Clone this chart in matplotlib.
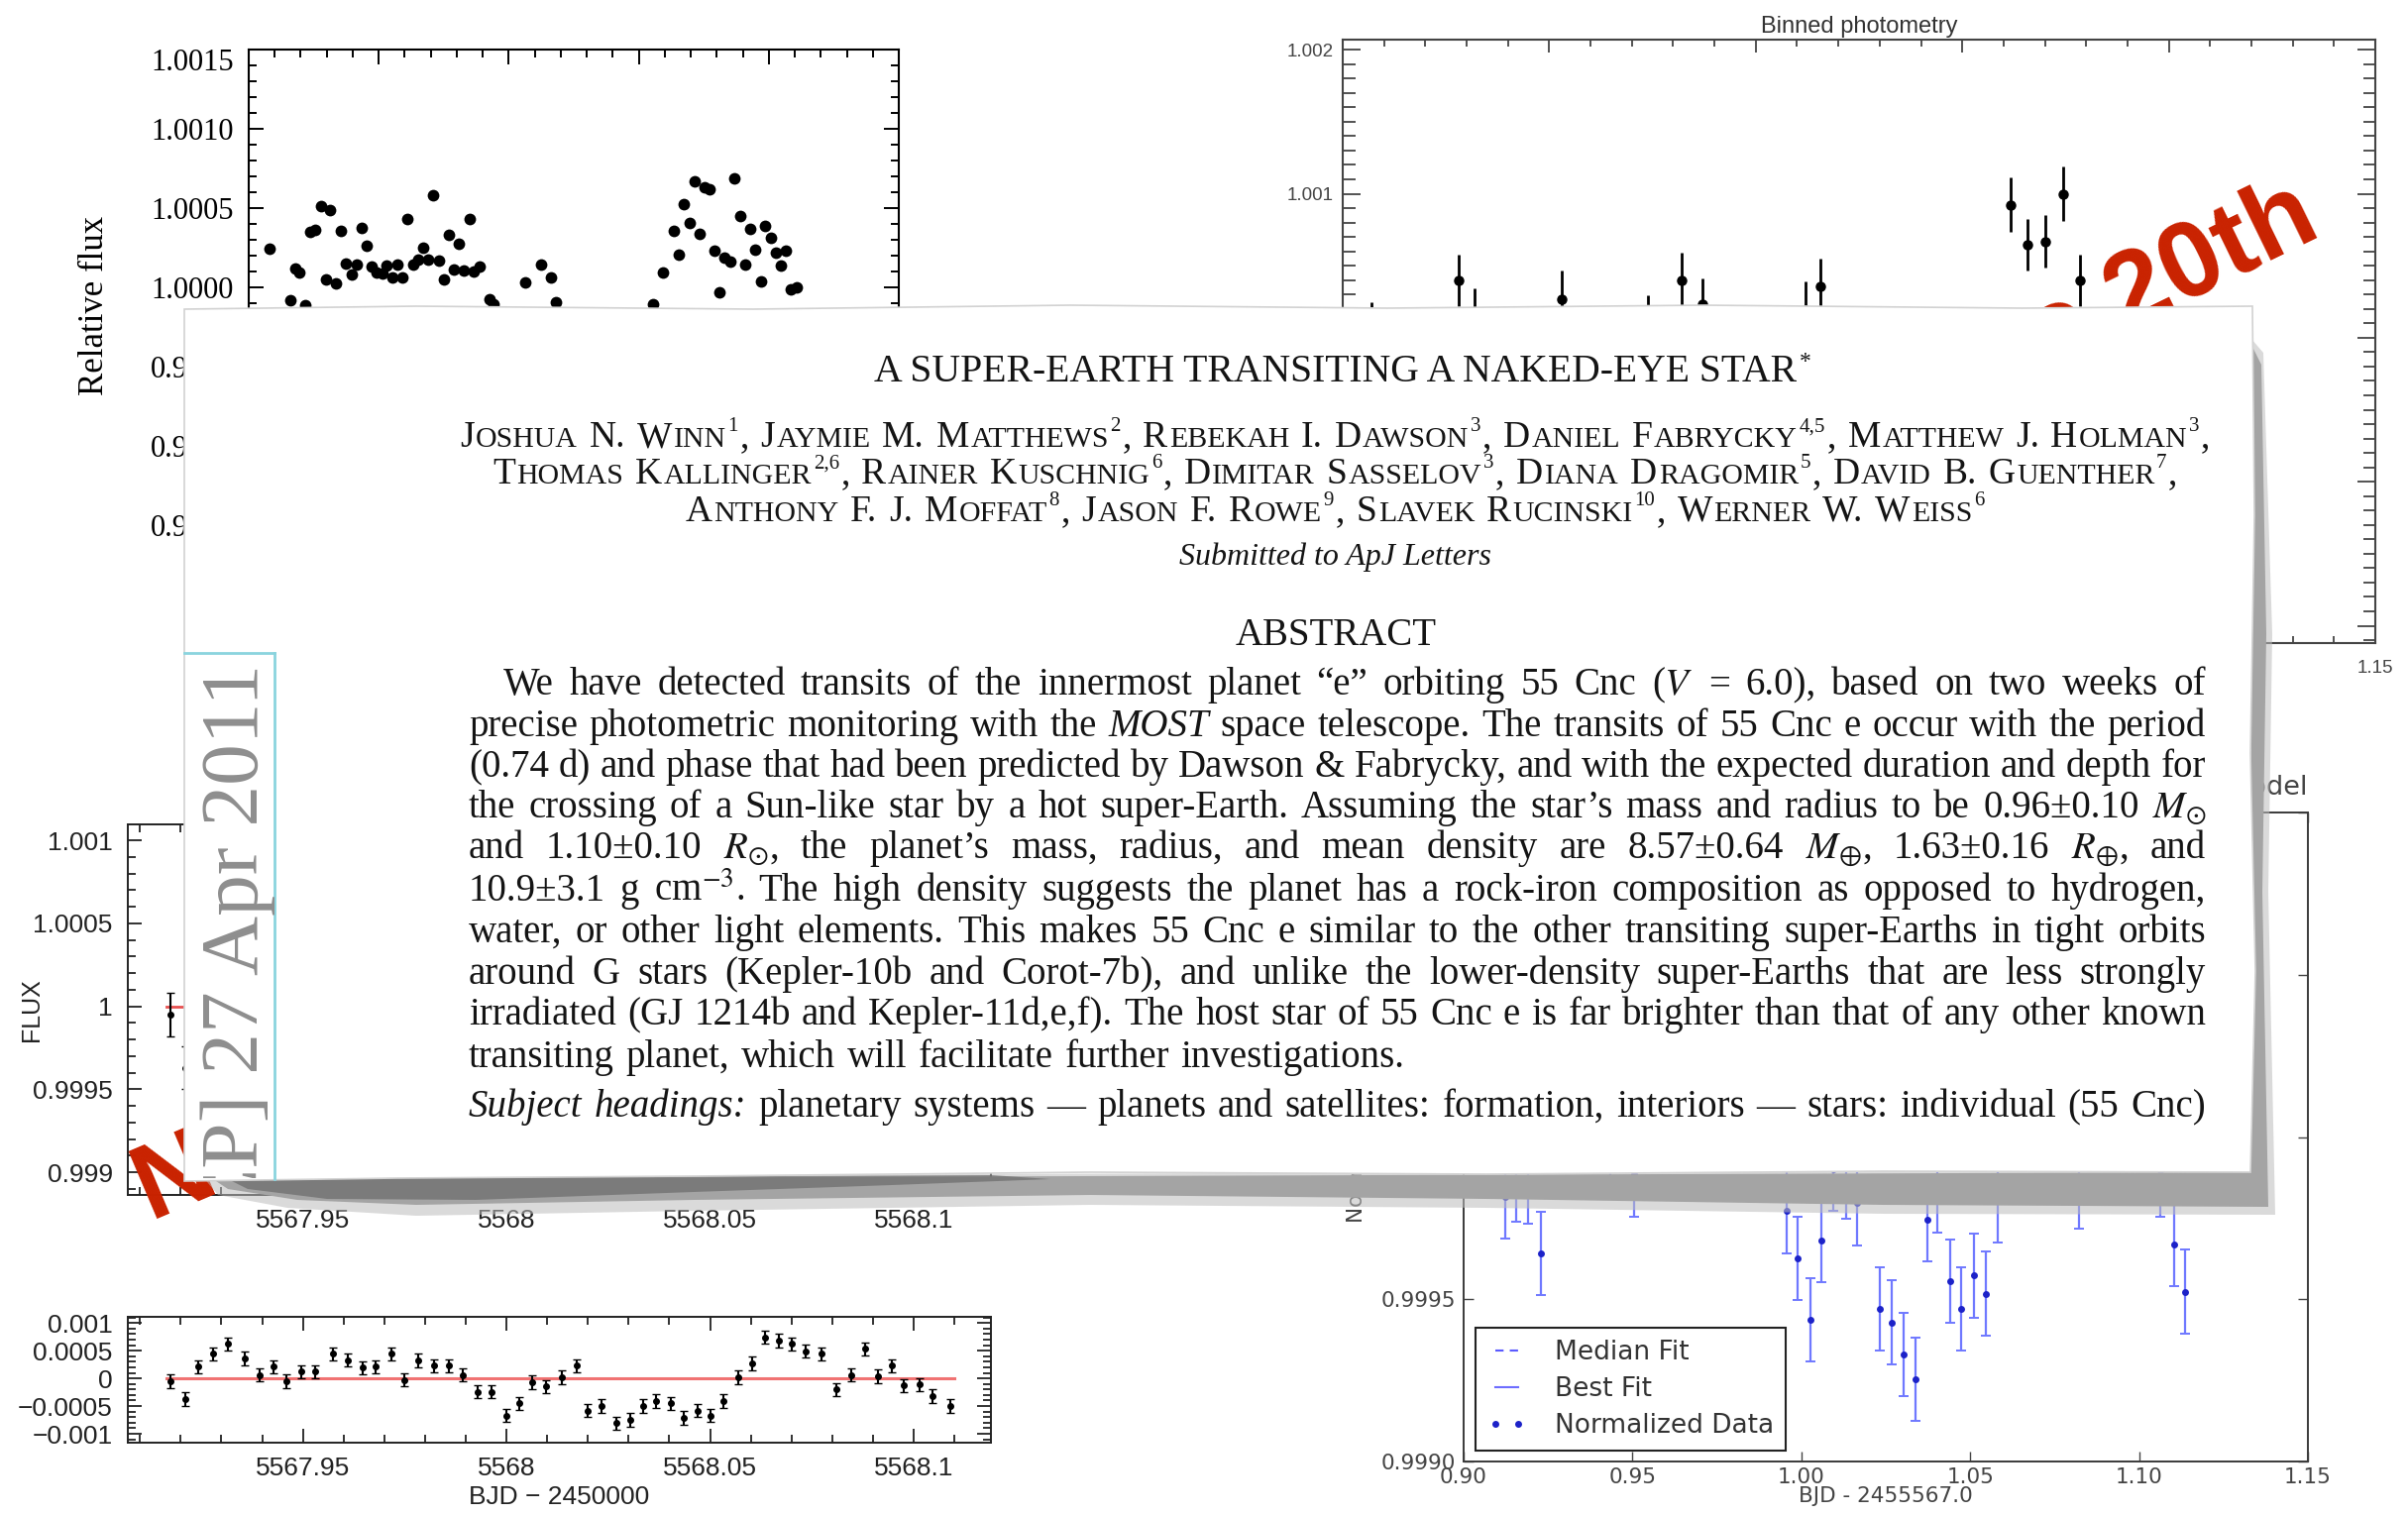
#!/usr/bin/env python3
import matplotlib
matplotlib.use('Agg')
import matplotlib.pyplot as plt
import matplotlib.ticker as mticker
from matplotlib.patches import Polygon
from matplotlib.transforms import Bbox

plt.rcParams['mathtext.fontset'] = 'stix'

# ---------------------------------------------------------------- data
# MOST light curve (top left), x = BJD - 2455567
lc_time = [0.9081, 0.9159, 0.9178, 0.9196, 0.9217, 0.9236, 0.9256, 0.9277, 0.9296, 0.9314,
           0.9335, 0.9356, 0.9374, 0.9395, 0.9414, 0.9434, 0.9453, 0.9474, 0.9492, 0.9513,
           0.9531, 0.9552, 0.9571, 0.9592, 0.9610, 0.9631, 0.9652, 0.9670, 0.9691, 0.9709,
           0.9730, 0.9749, 0.9769, 0.9788, 0.9809, 0.9827, 0.9848, 0.9866, 0.9887,
           0.9927, 0.9940, 1.0063, 1.0123, 1.0162, 1.0183,
           1.0555, 1.0594, 1.0634, 1.0654, 1.0673, 1.0694, 1.0714, 1.0733, 1.0754, 1.0772,
           1.0791, 1.0811, 1.0830, 1.0851, 1.0869, 1.0890, 1.0911, 1.0929, 1.0948, 1.0969,
           1.0987, 1.1008, 1.1026, 1.1047, 1.1066, 1.1086, 1.1107]
lc_flux = [1.000246, 0.999921, 1.000121, 1.000092, 0.999885, 1.000350, 1.000363, 1.000510, 1.000052, 1.000490,
           1.000025, 1.000354, 1.000152, 1.000079, 1.000146, 1.000375, 1.000265, 1.000129, 1.000092, 1.000088,
           1.000140, 1.000063, 1.000142, 1.000063, 1.000433, 1.000146, 1.000173, 1.000250, 1.000177, 1.000583,
           1.000167, 1.000052, 1.000329, 1.000115, 1.000275, 1.000108, 1.000429, 1.000100, 1.000129,
           0.999927, 0.999896, 1.000031, 1.000142, 1.000063, 0.999906,
           0.999896, 1.000092, 1.000354, 1.000204, 1.000525, 1.000404, 1.000667, 1.000338, 1.000631, 1.000621,
           1.000233, 0.999969, 1.000188, 1.000163, 1.000688, 1.000452, 1.000146, 1.000371, 1.000240, 1.000038,
           1.000385, 1.000313, 1.000217, 1.000135, 1.000229, 0.999990, 1.000000]

# binned photometry (top right)
bin_time = [0.907, 0.928, 0.932, 0.953, 0.974, 0.982, 0.987, 1.012, 1.0157,
            1.0616, 1.0659, 1.0700, 1.0745, 1.0784]
bin_flux = [1.000048, 1.000400, 1.000145, 1.000269, 1.000097, 1.000400, 1.000234, 1.000193, 1.000359,
            1.000924, 1.000648, 1.000669, 1.001000, 1.000400]
bin_err = [0.00020, 0.00018, 0.00020, 0.00020, 0.00020, 0.00019, 0.00018, 0.00020, 0.00019,
           0.00019, 0.00018, 0.00018, 0.00019, 0.00018]

# flux and residuals (bottom left), x = BJD - 2450000
res_time = [5567.9174, 5567.9212, 5567.9243, 5567.9280, 5567.9316, 5567.9358, 5567.9394, 5567.9427,
            5567.9459, 5567.9495, 5567.9529, 5567.9573, 5567.9611, 5567.9647, 5567.9679, 5567.9717,
            5567.9749, 5567.9782, 5567.9822, 5567.9858, 5567.9892, 5567.9928, 5567.9964, 5568.0000,
            5568.0031, 5568.0062, 5568.0098, 5568.0135, 5568.0173, 5568.0200, 5568.0233, 5568.0270,
            5568.0303, 5568.0336, 5568.0368, 5568.0404, 5568.0436, 5568.0469, 5568.0502, 5568.0534,
            5568.0570, 5568.0603, 5568.0635, 5568.0668, 5568.0700, 5568.0735, 5568.0774, 5568.0811,
            5568.0847, 5568.0880, 5568.0912, 5568.0946, 5568.0977, 5568.1015, 5568.1047, 5568.1091]
res_val = [-0.00005, -0.00037, 0.00021, 0.00044, 0.00062, 0.00036, 0.00006, 0.00021,
           -0.00005, 0.00012, 0.00012, 0.00044, 0.00033, 0.00019, 0.00021, 0.00044,
           -0.00003, 0.00032, 0.00023, 0.00023, 0.00006, -0.00024, -0.00024, -0.00067,
           -0.00045, -0.00007, -0.00015, 0.00002, 0.00023, -0.00058, -0.00050, -0.00081,
           -0.00075, -0.00050, -0.00041, -0.00045, -0.00071, -0.00058, -0.00067, -0.00041,
           0.00002, 0.00027, 0.00074, 0.00068, 0.00062, 0.00049, 0.00044, -0.00020,
           0.00006, 0.00053, 0.00004, 0.00023, -0.00013, -0.00011, -0.00032, -0.00050]
res_err = 0.00012
flux_err = 0.00013
model_time = [5567.9165, 5568.1100]
model_flux = [1.0, 1.0]
model_res = [0.0, 0.0]

# normalized data (bottom right), x = BJD - 2455567.0
norm_time = [0.9122, 0.9156, 0.9192, 0.9229, 0.9434, 0.9504, 0.9957, 0.9989, 1.0028, 1.0058,
             1.0094, 1.0132, 1.0165, 1.0233, 1.0267, 1.0303, 1.0338, 1.0372, 1.0404, 1.0440,
             1.0474, 1.0511, 1.0545, 1.0581, 1.0823, 1.1064, 1.1103, 1.1135]
norm_flux = [0.999816, 0.999869, 0.999862, 0.999641, 0.999960, 0.999884, 0.999771, 0.999626, 0.999436, 0.999682,
             0.999900, 0.999877, 0.999796, 0.999470, 0.999429, 0.999330, 0.999254, 0.999745, 0.999834, 0.999555,
             0.999471, 0.999573, 0.999517, 0.999804, 0.999847, 0.999884, 0.999669, 0.999523]
norm_err = 0.000129
fit_time = [0.910, 1.115]
median_fit = [1.0, 1.0]
best_fit = [1.0, 1.0]

# paper text ('~' marks an italic word)
title_str = 'A SUPER-EARTH TRANSITING A NAKED-EYE STAR'
author_lines = [
    'Joshua N. Winn^{1}, Jaymie M. Matthews^{2}, Rebekah I. Dawson^{3}, Daniel Fabrycky^{4,5}, Matthew J. Holman^{3},',
    'Thomas Kallinger^{2,6}, Rainer Kuschnig^{6}, Dimitar Sasselov^{3}, Diana Dragomir^{5}, David B. Guenther^{7},',
    'Anthony F. J. Moffat^{8}, Jason F. Rowe^{9}, Slavek Rucinski^{10}, Werner W. Weiss^{6}',
]
abstract_lines = [
    r'We have detected transits of the innermost planet “e” orbiting 55 Cnc ($\mathit{V}$ = 6.0), based on two weeks of',
    r'precise photometric monitoring with the ~MOST space telescope. The transits of 55 Cnc e occur with the period',
    r'(0.74 d) and phase that had been predicted by Dawson & Fabrycky, and with the expected duration and depth for',
    r'the crossing of a Sun-like star by a hot super-Earth. Assuming the star’s mass and radius to be 0.96±0.10 $M_{\odot}$',
    r'and 1.10±0.10 $R_{\odot}$, the planet’s mass, radius, and mean density are 8.57±0.64 $M_{\oplus}$, 1.63±0.16 $R_{\oplus}$, and',
    r'10.9±3.1 g cm$^{-3}$. The high density suggests the planet has a rock-iron composition as opposed to hydrogen,',
    r'water, or other light elements. This makes 55 Cnc e similar to the other transiting super-Earths in tight orbits',
    r'around G stars (Kepler-10b and Corot-7b), and unlike the lower-density super-Earths that are less strongly',
    r'irradiated (GJ 1214b and Kepler-11d,e,f). The host star of 55 Cnc e is far brighter than that of any other known',
    r'transiting planet, which will facilitate further investigations.',
]
subject_line = '~Subject ~headings: planetary systems — planets and satellites: formation, interiors — stars: individual (55 Cnc)'
stamp_str = 'ph.EP] 27 Apr 2011'

# ---------------------------------------------------------------- figure
W, H = 2430, 1529
fig = plt.figure(figsize=(W / 100, H / 100), dpi=100)
fig.patch.set_facecolor('white')


def px_axes(left, top, right, bottom, **kw):
    return fig.add_axes([left / W, 1 - bottom / H, (right - left) / W, (bottom - top) / H], **kw)


def tick_font(ax, family):
    for lab in ax.get_xticklabels() + ax.get_yticklabels():
        lab.set_fontfamily(family)


def num_fmt(v, pos):
    return f'{round(v, 6):g}'.replace('-', '\u2212')


def rel_fmt(v, pos):
    # the top label is drawn a little lower, below the frame
    return '' if abs(v - 1.0015) < 1e-7 else f'{v:.4f}'


# --- top left: relative flux
axA = px_axes(251, 50, 907, 578)
axA.plot(lc_time, lc_flux, 'o', color='black', ms=8.5, mew=0)
axA.set_xlim(0.90, 1.15)
axA.set_ylim(0.9982, 1.0015)
axA.xaxis.set_major_locator(mticker.MultipleLocator(0.05))
axA.xaxis.set_minor_locator(mticker.MultipleLocator(0.01))
axA.yaxis.set_major_locator(mticker.MultipleLocator(0.0005))
axA.yaxis.set_minor_locator(mticker.MultipleLocator(0.0001))
axA.yaxis.set_major_formatter(mticker.FuncFormatter(rel_fmt))
axA.tick_params(which='both', direction='in', top=True, right=True, width=1.4, labelbottom=False)
axA.tick_params(which='major', length=11, labelsize=22, pad=11)
axA.tick_params(which='minor', length=6)
for s in axA.spines.values():
    s.set_linewidth(1.5)
tick_font(axA, 'Liberation Serif')
axA.annotate('1.0015', xy=(0, 1.0015), xycoords=('axes fraction', 'data'), xytext=(-11, -10),
             textcoords='offset points', ha='right', va='center', fontsize=22,
             family='Liberation Serif')
axA.set_ylabel('Relative flux', family='Liberation Serif', fontsize=25)
axA.yaxis.set_label_coords(-0.212, 0.51)

# --- top right: binned photometry (only the labels outside the paper are written)
axB = px_axes(1355, 40, 2397, 649)
axB.errorbar(bin_time, bin_flux, yerr=bin_err, fmt='o', color='black', ms=6.5,
             elinewidth=2.0, capsize=0)
axB.set_xlim(0.90, 1.15)
axB.set_ylim(0.99788, 1.00207)
axB.xaxis.set_major_locator(mticker.MultipleLocator(0.05))
axB.xaxis.set_minor_locator(mticker.MultipleLocator(0.01))
axB.yaxis.set_major_locator(mticker.MultipleLocator(0.001))
axB.yaxis.set_minor_locator(mticker.MultipleLocator(0.0001))
axB.xaxis.set_major_formatter(mticker.FuncFormatter(lambda v, p: f'{v:.2f}' if v > 1.14 else ''))
axB.yaxis.set_major_formatter(mticker.FuncFormatter(lambda v, p: f'{v:.3f}' if v > 1.0005 else ''))
axB.tick_params(which='both', direction='in', top=True, right=True, width=1.3, colors='#444444')
axB.tick_params(axis='x', which='major', length=9, labelsize=13.5, pad=12)
axB.tick_params(axis='x', which='minor', length=5)
axB.tick_params(axis='y', which='major', length=13, labelsize=13.5, pad=7)
axB.tick_params(axis='y', which='minor', length=9)
for s in axB.spines.values():
    s.set_linewidth(1.5)
    s.set_color('#444444')
tick_font(axB, 'Liberation Sans')
axB.set_title('Binned photometry', family='Liberation Sans', fontsize=17, color='#333333', pad=5)

# --- bottom left: flux
axC = px_axes(129, 832, 1000, 1206)
axC.plot(model_time, model_flux, color='#e85050', lw=2.0)
axC.errorbar(res_time, [1 + r for r in res_val], yerr=flux_err, fmt='o', color='black',
             ms=4, elinewidth=1.5, capsize=3)
axC.set_xlim(5567.907, 5568.119)
axC.set_ylim(0.998863, 1.001096)
# --- bottom left: residuals
axD = px_axes(129, 1329, 1000, 1456)
axD.plot(model_time, model_res, color='#f07272', lw=2.2)
axD.errorbar(res_time, res_val, yerr=res_err, fmt='o', color='black',
             ms=4, elinewidth=1.5, capsize=3)
axD.set_xlim(5567.907, 5568.119)
axD.set_ylim(-0.00116, 0.00111)
for ax in (axC, axD):
    ax.xaxis.set_major_locator(mticker.MultipleLocator(0.05))
    ax.xaxis.set_minor_locator(mticker.MultipleLocator(0.01))
    ax.yaxis.set_major_locator(mticker.MultipleLocator(0.0005))
    ax.yaxis.set_minor_locator(mticker.MultipleLocator(0.0001))
    ax.xaxis.set_major_formatter(mticker.FuncFormatter(num_fmt))
    ax.yaxis.set_major_formatter(mticker.FuncFormatter(num_fmt))
    ax.tick_params(which='both', direction='in', top=True, right=True, width=1.3, colors='#222222')
    ax.tick_params(which='major', length=10, labelsize=19)
    ax.tick_params(which='minor', length=5.5)
    ax.tick_params(axis='x', pad=10)
    ax.tick_params(axis='y', pad=11)
    for s in ax.spines.values():
        s.set_linewidth(1.4)
        s.set_color('#222222')
    tick_font(ax, 'Liberation Sans')
axC.set_ylabel('FLUX', family='Liberation Sans', fontsize=18, color='#222222')
axC.yaxis.set_label_coords(-0.0976, 0.5)
axD.set_xlabel('BJD \u2212 2450000', family='Liberation Sans', fontsize=19, color='#222222')
axD.xaxis.set_label_coords(0.5, -0.34)

# --- bottom right: normalized data and model
axE = px_axes(1477, 820, 2329, 1475)
axE.plot(fit_time, median_fit, '--', color='#5a5aff', lw=1.5, dashes=(4, 3), label='Median Fit')
axE.plot(fit_time, best_fit, '-', color='#6d6dff', lw=1.5, label='Best Fit')
axE.errorbar(norm_time, norm_flux, yerr=norm_err, fmt='none', ecolor='#6f78ff',
             elinewidth=1.6, capsize=3.5, capthick=1.4)
axE.plot(norm_time, norm_flux, 'o', color='#1c22c8', ms=5, mew=0, label='Normalized Data')
axE.set_xlim(0.90, 1.15)
axE.set_ylim(0.9990, 1.0010)
axE.xaxis.set_major_locator(mticker.MultipleLocator(0.05))
axE.yaxis.set_major_locator(mticker.MultipleLocator(0.0005))
axE.xaxis.set_major_formatter(mticker.FormatStrFormatter('%.2f'))
axE.yaxis.set_major_formatter(mticker.FuncFormatter(lambda v, p: f'{v:.4f}' if v < 0.99975 else ''))
axE.tick_params(direction='in', top=True, right=True, length=7, width=1.0,
                colors='#444444', labelsize=15.5)
axE.tick_params(axis='x', pad=4)
axE.tick_params(axis='y', pad=6)
for s in axE.spines.values():
    s.set_linewidth(1.4)
    s.set_color('#3a3a3a')
axE.set_ylabel('Normalized Flux', fontsize=15.5, color='#444444')
axE.yaxis.set_label_coords(-0.115, 0.5)
axE.set_xlabel('BJD - 2455567.0', fontsize=15.5, color='#444444')
axE.xaxis.set_label_coords(0.5, -0.038)
axE.set_title('Model', loc='right', fontsize=19.5, color='#444444', pad=13)
leg = axE.legend(loc='lower left', bbox_to_anchor=(0.014, 0.017), borderaxespad=0,
                 fontsize=19, numpoints=2, handlelength=1.5, handletextpad=1.1,
                 labelspacing=0.42, borderpad=0.45, fancybox=False, framealpha=1)
leg.get_frame().set_edgecolor('#222222')
leg.get_frame().set_linewidth(1.5)
for t in leg.get_texts():
    t.set_color('#333333')

# ---------------------------------------------------------------- overlay: stickers and paper
ov = fig.add_axes([0, 0, 1, 1], zorder=10)
ov.set_xlim(0, W)
ov.set_ylim(H, 0)
ov.axis('off')
renderer = fig.canvas.get_renderer()

RED = '#c92200'
ov.text(2345, 237, 'Dec 20th', rotation=26, rotation_mode='anchor', ha='right', va='baseline',
        fontsize=78, fontweight='bold', family='Liberation Sans', color=RED, zorder=1)
ov.text(151, 1230, 'Nov', rotation=23, rotation_mode='anchor', ha='left', va='baseline',
        fontsize=78, fontweight='bold', family='Liberation Sans', color=RED, zorder=1)

# torn paper with its shadow
soft_xy = [(205, 1188), (2268, 1180), (2272, 342), (2284, 356), (2293, 640), (2289, 900),
           (2296, 1226), (1900, 1225), (1500, 1219), (1100, 1216), (700, 1222), (420, 1227),
           (290, 1219), (220, 1206)]
shadow_xy = [(215, 1190), (2271, 1183), (2273, 350), (2282, 368), (2287, 640), (2283, 900),
             (2289, 1218), (1900, 1216), (1500, 1210), (1100, 1206), (700, 1211), (420, 1216),
             (300, 1211), (230, 1200)]
dark_xy = [(230, 1190), (500, 1188), (800, 1187), (1000, 1186), (1060, 1190), (900, 1196),
           (700, 1203), (480, 1211), (330, 1210), (250, 1200)]
paper_xy = [(186, 312), (420, 309), (760, 312), (1080, 308), (1400, 311), (1720, 308),
            (2040, 311), (2273, 309), (2275, 520), (2271, 760), (2276, 980), (2271, 1183),
            (1900, 1182), (1500, 1185), (1100, 1183), (700, 1187), (400, 1189), (186, 1192)]
ov.add_patch(Polygon(soft_xy, closed=True, fc='#bdbdbd', ec='none', alpha=0.55, zorder=2))
ov.add_patch(Polygon(shadow_xy, closed=True, fc='#a4a4a4', ec='none', zorder=2.1))
ov.add_patch(Polygon(dark_xy, closed=True, fc='#6a6a6a', ec='none', alpha=0.7, zorder=2.2))
paper = Polygon(paper_xy, closed=True, fc='white', ec='#d2d2d2', lw=1.2, zorder=3)
ov.add_patch(paper)

# arXiv side stamp
ov.plot([186, 277], [659, 659], color='#8ad4de', lw=2.0, zorder=4)
ov.plot([277, 277], [659, 1190], color='#8ad4de', lw=2.0, zorder=4)
st = ov.text(260, 670, stamp_str, rotation=90, rotation_mode='anchor', ha='right', va='baseline',
             fontsize=60, family='Liberation Serif', color='#8e8e8e', zorder=4, clip_on=True)
st.set_clip_box(Bbox.from_extents(186, H - 1189, 2273, H - 312))

INK = '#141414'
SERIF = 'Liberation Serif'
CX = 1348


def width(t):
    return t.get_window_extent(renderer).width


def caps_line(s, y, cx, big, small, sup):
    # small capitals: capitals at full size, lower case drawn as small capitals
    segs = []
    i = 0
    while i < len(s):
        c = s[i]
        if c == '^':
            j = s.index('}', i)
            segs.append((s[i + 2:j], sup, -0.42 * big * 100 / 72))
            i = j + 1
            continue
        if c == ' ':
            segs.append((' ', None, 0))
        else:
            size = small if c.islower() else big
            if segs and segs[-1][1] == size and segs[-1][2] == 0:
                segs[-1] = (segs[-1][0] + c.upper(), size, 0)
            else:
                segs.append((c.upper(), size, 0))
        i += 1
    placed = []
    x = 0.0
    for txt, size, dy in segs:
        if size is None:
            x += 0.27 * big * 100 / 72
            continue
        t = ov.text(0, y + dy, txt, fontsize=size, family=SERIF, color=INK,
                    ha='left', va='baseline', zorder=5)
        placed.append((t, x))
        x += width(t) + 1.5
    x0 = cx - x / 2
    for t, off in placed:
        t.set_x(x0 + off)


def para_line(s, y, x0, x1, justify=True, size=28):
    words = s.split()
    ts = []
    for w in words:
        style = 'normal'
        if w.startswith('~'):
            w, style = w[1:], 'italic'
        ts.append(ov.text(x0, y, w, fontsize=size, family=SERIF, color=INK, style=style,
                          ha='left', va='baseline', zorder=5))
    ws = [width(t) for t in ts]
    if justify and len(ws) > 1:
        gap = (x1 - x0 - sum(ws)) / (len(ws) - 1)
    else:
        gap = 0.3 * size * 100 / 72
    x = x0
    for t, w in zip(ts, ws):
        t.set_x(x)
        x += w + gap


# title
tt = ov.text(CX, 385, title_str, fontsize=28.5, family=SERIF, color=INK, ha='center',
             va='baseline', zorder=5)
tw = width(tt)
ov.text(CX + tw / 2 + 2, 371, '*', fontsize=17, family=SERIF, color=INK, ha='left',
        va='baseline', zorder=5)

for line, yb in zip(author_lines, [451, 488, 526]):
    caps_line(line, yb, CX, big=27, small=21.5, sup=15)

ov.text(CX, 570, 'Submitted to ApJ Letters', fontsize=23, family=SERIF, style='italic',
        color=INK, ha='center', va='baseline', zorder=5)
ov.text(CX, 651, 'ABSTRACT', fontsize=28, family=SERIF, color=INK, ha='center',
        va='baseline', zorder=5)

body_y = [701, 743, 784, 825, 866, 909, 951, 993, 1034, 1077]
for k, (line, yb) in enumerate(zip(abstract_lines, body_y)):
    x_start = 508 if k == 0 else 473
    para_line(line, yb, x_start, 2226, justify=(k < len(abstract_lines) - 1))
para_line(subject_line, 1127, 473, 2226, justify=True)

fig.savefig('out.png', dpi=100)
